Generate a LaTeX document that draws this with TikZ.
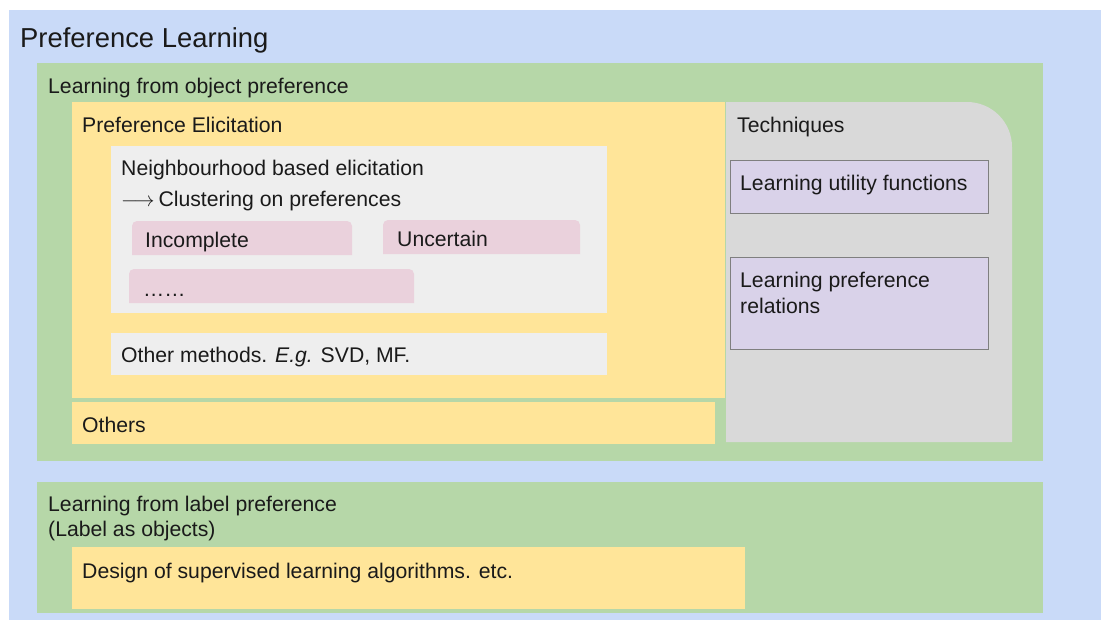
\documentclass[tikz,border=0pt]{standalone}
\usepackage{fontspec}
\setmainfont{Liberation Sans}
\definecolor{cblue}{HTML}{C9DAF8}
\definecolor{cgreen}{HTML}{B6D7A8}
\definecolor{cyellow}{HTML}{FFE599}
\definecolor{cgray}{HTML}{D9D9D9}
\definecolor{clight}{HTML}{EEEEEE}
\definecolor{cpink}{HTML}{EAD1DC}
\definecolor{cpurple}{HTML}{D9D2E9}
\definecolor{cborder}{HTML}{7F7F7F}
\definecolor{ctext}{HTML}{1A1A1A}
\begin{document}
\begin{tikzpicture}[x=1pt,y=-1pt,
  txt/.style={anchor=base west,inner sep=0pt,text=ctext,font=\fontsize{21.2}{25}\selectfont},
  title/.style={anchor=base west,inner sep=0pt,text=ctext,font=\fontsize{27.4}{32}\selectfont},
  area/.style={anchor=north west,inner sep=0pt,outer sep=0pt,draw=none},
  tech/.style={anchor=north west,inner sep=0pt,outer sep=0pt,fill=cpurple,draw=cborder,line width=1pt}]
\useasboundingbox (0,0) rectangle (1101,622);
\fill[white] (0,0) rectangle (1101,622);
% outer
\node[area,fill=cblue,minimum width=1092pt,minimum height=610pt] (pl) at (9,10) {};
\node[title] (plt) at (20,47) {Preference Learning};
% green object
\node[area,fill=cgreen,minimum width=1006pt,minimum height=398pt] (obj) at (37,63) {};
\node[txt] (objt) at (48,93) {Learning from object preference};
% yellow elicitation
\node[area,fill=cyellow,minimum width=653pt,minimum height=296pt] (eli) at (72,102) {};
\node[txt] (elit) at (82,132) {Preference Elicitation};
% neighbourhood
\node[area,fill=clight,minimum width=496pt,minimum height=167pt] (nb) at (111,146) {};
\node[txt] (nbt1) at (121,175) {Neighbourhood based elicitation};
\node[txt] (nbt2) at (121,206) {$\longrightarrow$\kern-2pt\ Clustering on preferences};
% pink boxes
\fill[cpink] (132,255) [rounded corners=5pt] -- (132,221) -- (352,221) [sharp corners] -- (352,255) -- cycle;
\node[txt] (inc) at (145,247) {Incomplete};
\fill[cpink] (383,254) [rounded corners=5pt] -- (383,220) -- (580,220) [sharp corners] -- (580,254) -- cycle;
\node[txt] (unc) at (397,246) {Uncertain};
\fill[cpink] (129,303) [rounded corners=5pt] -- (129,269) -- (414,269) [sharp corners] -- (414,303) -- cycle;
\node[txt] (dots) at (143,296) {……};
% other methods
\node[area,fill=clight,minimum width=496pt,minimum height=42pt] (om) at (111,333) {};
\node[txt] (omt) at (121,362) {Other methods. \textit{E.g.} SVD, MF.};
% others
\node[area,fill=cyellow,minimum width=643pt,minimum height=42pt] (oth) at (72,402) {};
\node[txt] (otht) at (82,432) {Others};
% techniques
\fill[cgray] (726,442) -- (726,102) [rounded corners=45pt] -- (1012,102) [sharp corners] -- (1012,442) -- cycle;
\node[txt] (techt) at (737,132) {Techniques};
\node[tech,minimum width=258pt,minimum height=53pt] (luf) at (730,160) {};
\node[txt] (luft) at (740,190) {Learning utility functions};
\node[tech,minimum width=258pt,minimum height=92pt] (lpr) at (730,257) {};
\node[txt] (lprt1) at (740,287) {Learning preference};
\node[txt] (lprt2) at (740,313) {relations};
% label preference
\node[area,fill=cgreen,minimum width=1006pt,minimum height=131pt] (lab) at (37,482) {};
\node[txt] (labt1) at (48,511) {Learning from label preference};
\node[txt] (labt2) at (48,536) {(Label as objects)};
\node[area,fill=cyellow,minimum width=673pt,minimum height=62pt] (des) at (72,547) {};
\node[txt] (dest) at (82,578) {Design of supervised learning algorithms. etc.};
\end{tikzpicture}
\end{document}
